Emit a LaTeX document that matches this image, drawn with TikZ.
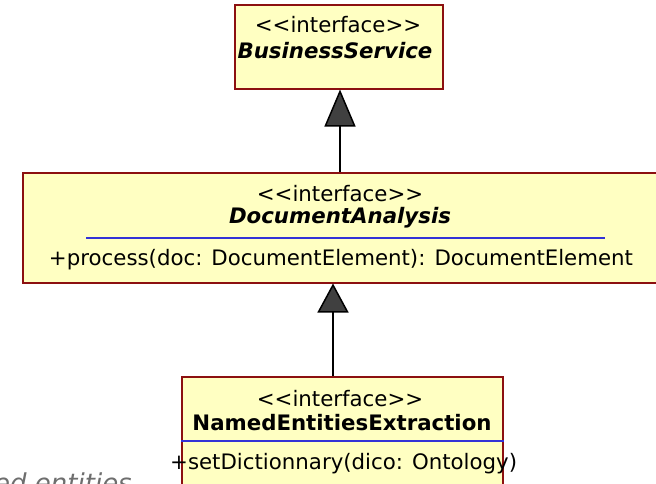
\documentclass[tikz,border=0pt]{standalone}
\usepackage{fontspec}
\setmainfont{DejaVu Sans}[Ligatures=TeXOff]
\usetikzlibrary{arrows.meta}
\definecolor{classfill}{RGB}{255,255,194}
\definecolor{classborder}{RGB}{140,16,16}
\definecolor{sepblue}{RGB}{50,50,215}
\definecolor{headgray}{RGB}{64,64,64}
\definecolor{notegray}{RGB}{110,110,110}
\newcommand{\umlsize}{\fontsize{21.3}{25}\selectfont}
\begin{document}
\begin{tikzpicture}[x=1pt,y=-1pt,
  classbox/.style={draw=classborder,fill=classfill,line width=1.5pt,inner sep=0pt,anchor=north west},
  txt/.style={inner sep=0pt,font=\umlsize},
  sep/.style={draw=sepblue,line width=1.8pt},
  realize/.style={draw=black,line width=1.5pt,
    -{Triangle[length=#1,width=31pt,fill=headgray]}},
]
\useasboundingbox (0,0) rectangle (656,483);

% BusinessService
\node[classbox,minimum width=208pt,minimum height=84pt] (bs) at (234,4) {};
\node[txt] (bsst) at (338,25) {<<interface>>};
\node[txt,font=\umlsize\bfseries\itshape] (bsname) at (335,51) {BusinessService};

% DocumentAnalysis
\node[classbox,minimum width=640pt,minimum height=110pt] (da) at (22,172) {};
\node[txt] (dast) at (340,193.5) {<<interface>>};
\node[txt,font=\umlsize\bfseries\itshape] (daname) at (340,217.5) {DocumentAnalysis};
\coordinate (dasepl) at (86,238);
\coordinate (dasepr) at (605,238);
\draw[sep] (dasepl) -- (dasepr);
\node[txt] (daop) at (341,259.5) {+process(doc: DocumentElement): DocumentElement};

% NamedEntitiesExtraction
\node[classbox,minimum width=321pt,minimum height=130pt] (ne) at (181,376) {};
\node[txt] (nest) at (340,398.5) {<<interface>>};
\node[txt,font=\umlsize\bfseries] (nename) at (342,422.5) {NamedEntitiesExtraction};
\draw[sep] (ne.west |- 0,441) -- (ne.east |- 0,441);
\node[txt,anchor=west] (neop) at (170,464) {+setDictionnary(dico: Ontology)};

% caption fragment at the lower left
\node[inner sep=0pt,anchor=base west,text=notegray,font=\fontsize{26}{31}\selectfont\itshape] (cap) at (-6,492) {ed entities};

% realizations
\coordinate (xa) at (340,0);
\coordinate (xb) at (333,0);
\draw[realize=37pt] (da.north -| xa) -- (bs.south -| xa);
\draw[realize=29pt] (ne.north -| xb) -- (da.south -| xb);
\end{tikzpicture}
\end{document}
